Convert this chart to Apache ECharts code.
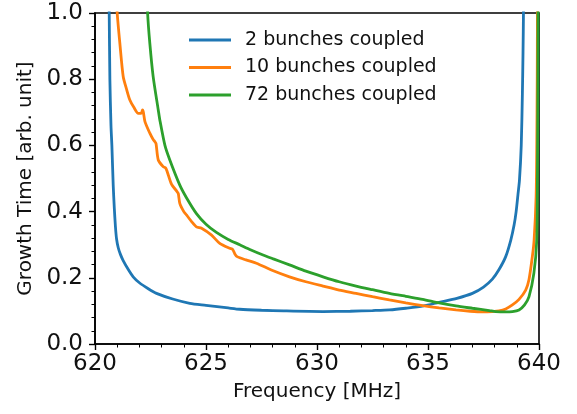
<!DOCTYPE html>
<html>
<head>
<meta charset="utf-8">
<script src="https://cdn.jsdelivr.net/npm/echarts@6/dist/echarts.min.js"></script>
<style>
html,body{margin:0;padding:0;background:#fff;}
#chart{width:577px;height:414px;}
</style>
</head>
<body>
<div id="chart"></div>
<script>
var seriesNames = ['2 bunches coupled', '10 bunches coupled', '72 bunches coupled'];
var seriesColors = ['#1f77b4', '#ff7f0e', '#2ca02c'];

var blueX = [620.60, 620.64, 620.67, 620.72, 620.76, 620.82, 620.87, 620.92, 620.97, 621.05, 621.15, 621.27, 621.50, 621.72, 622.00, 622.40, 622.77, 623.50, 624.27, 625.00, 626.00, 626.52, 627.50, 628.50, 630.27, 631.50, 632.50, 633.27, 634.00, 634.80, 635.50, 636.30, 637.00, 637.50, 637.90, 638.20, 638.50, 638.73, 638.88, 638.97, 639.05, 639.12, 639.20, 639.25, 639.28, 639.30, 639.32];
var blueY = [1.20, 1.00, 0.80, 0.66, 0.60, 0.48, 0.41, 0.355, 0.318, 0.29, 0.27, 0.252, 0.225, 0.203, 0.185, 0.167, 0.153, 0.136, 0.123, 0.117, 0.109, 0.105, 0.102, 0.100, 0.098, 0.099, 0.101, 0.103, 0.108, 0.115, 0.126, 0.138, 0.153, 0.172, 0.196, 0.225, 0.264, 0.314, 0.36, 0.40, 0.45, 0.495, 0.60, 0.75, 0.88, 1.00, 1.20];

var orangeX = [620.93, 621.00, 621.12, 621.27, 621.42, 621.57, 621.75, 621.95, 622.08, 622.14, 622.18, 622.25, 622.47, 622.62, 622.70, 622.75, 622.85, 623.07, 623.18, 623.25, 623.45, 623.68, 623.75, 623.82, 624.00, 624.12, 624.35, 624.57, 624.80, 625.25, 625.62, 626.07, 626.20, 626.30, 626.40, 626.80, 627.27, 628.00, 628.76, 629.50, 630.27, 631.00, 631.76, 632.50, 633.26, 634.00, 634.76, 635.50, 636.26, 636.90, 637.46, 637.90, 638.20, 638.50, 638.80, 639.10, 639.40, 639.55, 639.70, 639.78, 639.87, 639.90, 639.92, 639.93, 639.94];
var orangeY = [1.10, 1.00, 0.908, 0.808, 0.77, 0.737, 0.715, 0.697, 0.697, 0.707, 0.70, 0.672, 0.637, 0.618, 0.611, 0.605, 0.556, 0.536, 0.532, 0.521, 0.482, 0.462, 0.455, 0.425, 0.40, 0.39, 0.37, 0.354, 0.350, 0.329, 0.304, 0.289, 0.286, 0.272, 0.264, 0.254, 0.244, 0.222, 0.203, 0.188, 0.175, 0.163, 0.153, 0.143, 0.133, 0.124, 0.116, 0.109, 0.103, 0.099, 0.097, 0.098, 0.100, 0.106, 0.118, 0.135, 0.163, 0.195, 0.264, 0.314, 0.445, 0.60, 0.80, 1.00, 1.20];

var greenX = [622.33, 622.37, 622.47, 622.62, 622.85, 622.92, 623.15, 623.37, 623.82, 624.12, 624.57, 625.00, 625.47, 626.00, 626.52, 627.00, 627.57, 628.00, 628.76, 629.50, 630.27, 631.00, 631.76, 632.50, 633.26, 634.00, 634.76, 635.50, 636.26, 637.00, 637.76, 638.05, 638.50, 638.80, 639.10, 639.35, 639.55, 639.77, 639.90, 639.93, 639.95, 639.96];
var greenY = [1.10, 1.00, 0.908, 0.808, 0.707, 0.677, 0.60, 0.556, 0.480, 0.442, 0.394, 0.362, 0.337, 0.316, 0.300, 0.285, 0.269, 0.258, 0.239, 0.220, 0.203, 0.188, 0.175, 0.164, 0.153, 0.144, 0.135, 0.124, 0.115, 0.108, 0.101, 0.098, 0.097, 0.098, 0.103, 0.118, 0.143, 0.214, 0.314, 0.50, 0.80, 1.20];

var xTicks = [620, 625, 630, 635, 640];
var yTicks = [0.0, 0.2, 0.4, 0.6, 0.8, 1.0];

function pairs(xs, ys) {
  var out = [];
  for (var i = 0; i < xs.length; i++) out.push([xs[i], ys[i]]);
  return out;
}
var allX = [blueX, orangeX, greenX];
var allY = [blueY, orangeY, greenY];

var FONT = 'DejaVu Sans';
var TXT = '#111';

var series = seriesNames.map(function (name, i) {
  return {
    name: name,
    type: 'line',
    data: pairs(allX[i], allY[i]),
    showSymbol: false,
    symbol: 'none',
    smooth: 0.25,
    clip: true,
    lineStyle: { color: seriesColors[i], width: 2.8 },
    itemStyle: { color: seriesColors[i] },
    animation: false,
    z: 2 + i
  };
});

var chart = echarts.init(document.getElementById('chart'), null, { renderer: 'canvas' });
chart.setOption({
  backgroundColor: '#fff',
  animation: false,
  grid: {
    left: 95, right: 38, top: 13, bottom: 70,
    show: true, borderColor: '#000', borderWidth: 1.6, backgroundColor: 'transparent'
  },
  legend: {
    orient: 'vertical',
    left: 184, top: 25,
    icon: 'rect',
    itemWidth: 42, itemHeight: 3,
    itemGap: 7.5,
    textStyle: { fontFamily: FONT, fontSize: 19, color: TXT, lineHeight: 20, padding: [0, 0, 0, 9] },
    data: seriesNames
  },
  xAxis: {
    type: 'value',
    min: xTicks[0], max: xTicks[xTicks.length - 1], interval: xTicks[1] - xTicks[0],
    name: 'Frequency [MHz]',
    nameLocation: 'middle',
    nameGap: 38,
    nameTextStyle: { fontFamily: FONT, fontSize: 20, color: TXT },
    axisLine: { show: true, lineStyle: { color: '#000', width: 1.6 } },
    axisTick: { show: true, inside: false, length: 6, lineStyle: { color: '#000', width: 1.4 } },
    minorTick: { show: true, splitNumber: 5, length: 3.5, lineStyle: { color: '#000', width: 1 } },
    axisLabel: { fontFamily: FONT, fontSize: 23, color: TXT, margin: 9 },
    splitLine: { show: false }
  },
  yAxis: {
    type: 'value',
    min: yTicks[0], max: yTicks[yTicks.length - 1], interval: 0.2,
    name: 'Growth Time [arb. unit]',
    nameLocation: 'middle',
    nameGap: 57,
    nameTextStyle: { fontFamily: FONT, fontSize: 20, color: TXT },
    axisLine: { show: true, lineStyle: { color: '#000', width: 1.6 } },
    axisTick: { show: true, inside: false, length: 6, lineStyle: { color: '#000', width: 1.4 } },
    minorTick: { show: true, splitNumber: 5, length: 3.5, lineStyle: { color: '#000', width: 1 } },
    axisLabel: { fontFamily: FONT, fontSize: 23, color: TXT, margin: 12, formatter: function (v) { return v.toFixed(1); } },
    splitLine: { show: false }
  },
  series: series
});
</script>
</body>
</html>
